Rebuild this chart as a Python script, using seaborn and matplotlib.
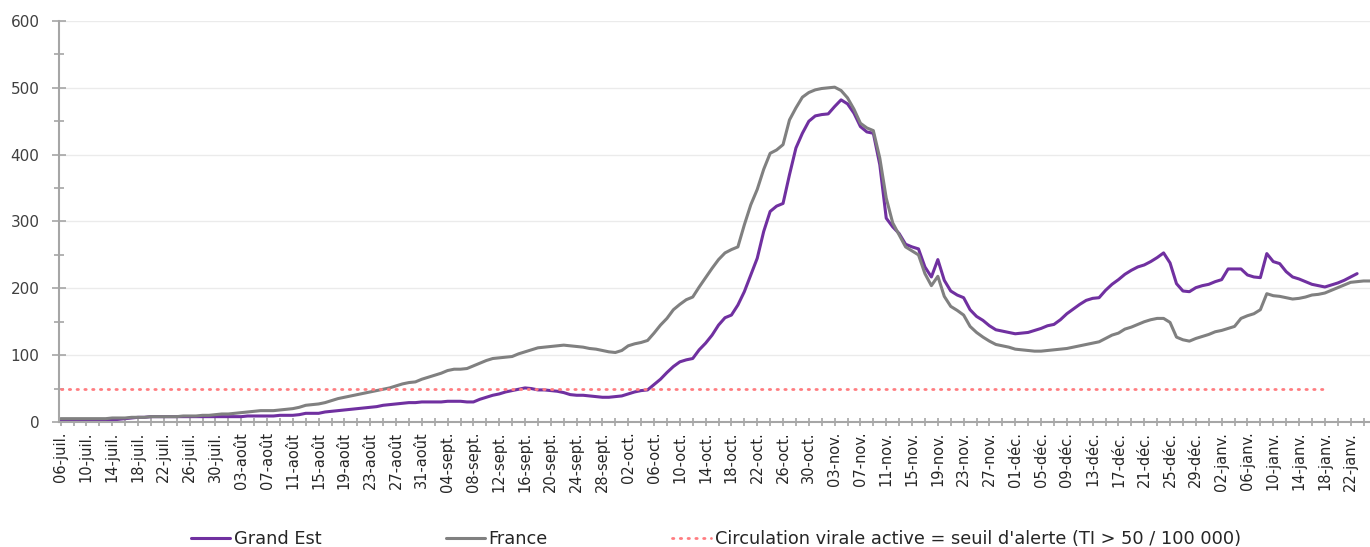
import numpy as np
import pandas as pd
import matplotlib
matplotlib.use("Agg")
import matplotlib.pyplot as plt
from matplotlib import font_manager
import seaborn as sns

# ---------------- data ----------------
start_date = "2020-07-06"

grand_est = (
    # juillet (06 -> 31)
    [2, 2, 2, 2, 2, 2, 2, 2, 3, 4, 5, 6, 7, 7, 8, 8, 8, 8, 8, 8, 8, 8, 8, 8, 8, 8]
    # août
    + [8, 8, 8, 9, 9, 9, 9, 9, 10, 10, 10, 11, 13, 13, 13, 15, 16, 17, 18, 19, 20, 21, 22, 23,
       25, 26, 27, 28, 29, 29, 30]
    # septembre
    + [30, 30, 30, 31, 31, 31, 30, 30, 34, 37, 40, 42, 45, 47, 49, 51, 50, 48, 48, 47,
       46, 44, 41, 40, 40, 39, 38, 37, 37, 38]
    # octobre
    + [39, 42, 45, 47, 48, 56, 64, 74, 83, 90, 93, 95, 108, 118, 130, 145, 156, 160, 175, 195,
       220, 245, 285, 315, 323, 327, 370, 410, 432, 450, 458]
    # novembre
    + [460, 461, 472, 482, 476, 462, 442, 434, 432, 385, 305, 292, 282, 266, 262, 259, 232, 217,
       243, 212, 196, 190, 186, 168, 158, 152, 144, 138, 136, 134]
    # décembre
    + [132, 133, 134, 137, 140, 144, 146, 153, 162, 169, 176, 182, 185, 186, 197, 206, 213, 221,
       227, 232, 235, 240, 246, 253, 238, 207, 196, 195, 201, 204, 206]
    # janvier (01 -> 23)
    + [210, 213, 229, 229, 229, 220, 217, 216, 252, 240, 237, 225, 217, 214, 210, 206, 204, 202,
       205, 208, 212, 217, 222]
)

france = (
    # juillet (06 -> 31)
    [5, 5, 5, 5, 5, 5, 5, 5, 6, 6, 6, 7, 7, 7, 8, 8, 8, 8, 8, 9, 9, 9, 10, 10, 11, 12]
    # août
    + [12, 13, 14, 15, 16, 17, 17, 17, 18, 19, 20, 22, 25, 26, 27, 29, 32, 35, 37, 39,
       41, 43, 45, 47, 49, 51, 54, 57, 59, 60, 64]
    # septembre
    + [67, 70, 73, 77, 79, 79, 80, 84, 88, 92, 95, 96, 97, 98, 102, 105, 108, 111, 112, 113,
       114, 115, 114, 113, 112, 110, 109, 107, 105, 104]
    # octobre
    + [107, 114, 117, 119, 122, 133, 145, 155, 168, 176, 183, 187, 202, 216, 230, 243, 253, 258,
       262, 295, 325, 348, 378, 402, 407, 415, 452, 470, 486, 493, 497]
    # novembre
    + [499, 500, 501, 496, 485, 468, 447, 440, 436, 395, 335, 298, 280, 262, 256, 250, 222, 204,
       218, 188, 173, 167, 160, 143, 134, 127, 121, 116, 114, 112]
    # décembre
    + [109, 108, 107, 106, 106, 107, 108, 109, 110, 112, 114, 116, 118, 120, 125, 130, 133, 139,
       142, 146, 150, 153, 155, 155, 149, 127, 123, 121, 125, 128, 131]
    # janvier (01 -> 25)
    + [135, 137, 140, 143, 155, 159, 162, 168, 192, 189, 188, 186, 184, 185, 187, 190, 191, 193,
       197, 201, 205, 209, 210, 211, 211]
)

seuil_value = 50
seuil_end = "2021-01-18"

month_abbr = {1: "janv.", 7: "juil.", 8: "août", 9: "sept.", 10: "oct.", 11: "nov.", 12: "déc."}
tick_end = "2021-01-22"

label_ge = "Grand Est"
label_fr = "France"
label_seuil = "Circulation virale active = seuil d'alerte (TI > 50 / 100 000)"

y_ticks = [0, 100, 200, 300, 400, 500, 600]

# ---------------- frames ----------------
df_ge = pd.DataFrame({"date": pd.date_range(start_date, periods=len(grand_est), freq="D"),
                      "value": grand_est})
df_fr = pd.DataFrame({"date": pd.date_range(start_date, periods=len(france), freq="D"),
                      "value": france})
seuil_dates = pd.date_range(start_date, seuil_end, freq="D")
df_seuil = pd.DataFrame({"date": seuil_dates, "value": [seuil_value] * len(seuil_dates)})

# ---------------- style ----------------
sns.set_theme(style="white")
plt.rcParams["font.family"] = ["DejaVu Sans"]

names = {f.name for f in font_manager.fontManager.ttflist}
narrow = "Liberation Sans Narrow" if "Liberation Sans Narrow" in names else "DejaVu Sans"

W, H = 1370, 547
fig = plt.figure(figsize=(W / 100, H / 100), dpi=100)
ax = fig.add_axes([59 / W, 125 / H, (W - 59) / W, 401 / H])

sns.lineplot(data=df_ge, x="date", y="value", ax=ax, color="#7030A0", lw=2.2, label=label_ge)
sns.lineplot(data=df_fr, x="date", y="value", ax=ax, color="#808080", lw=2.2, label=label_fr)
sns.lineplot(data=df_seuil, x="date", y="value", ax=ax, color="#FF7C80", lw=2.0,
             linestyle=(0, (0.5, 2.3)), dash_capstyle="round", label=label_seuil)

# axes limits
t0 = pd.Timestamp(start_date)
ax.set_xlim(t0 - pd.Timedelta(hours=6), t0 + pd.Timedelta(days=len(france) - 1))
ax.set_ylim(0, 600)

# y axis
ax.set_yticks(y_ticks)
ax.set_yticklabels([str(v) for v in y_ticks], fontsize=11, color="#404040")
ax.set_yticks([v + 50 for v in y_ticks[:-1]], minor=True)
ax.yaxis.grid(True, which="major", color="#EBEBEB", lw=1.0)
ax.xaxis.grid(False)
ax.tick_params(axis="y", which="major", direction="inout", length=10, width=1.2,
               color="#A6A6A6", pad=9, left=True)
ax.tick_params(axis="y", which="minor", direction="inout", length=7, width=1.2,
               color="#A6A6A6", left=True)

# x axis
tick_dates = pd.date_range(start_date, tick_end, freq="4D")
minor_dates = pd.date_range(start_date, t0 + pd.Timedelta(days=len(france) - 1), freq="2D")
ax.set_xticks(tick_dates)
ax.set_xticklabels([f"{d.day:02d}-{month_abbr[d.month]}" for d in tick_dates],
                   rotation=90, fontsize=10.5, family=narrow, color="#262626")
ax.set_xticks(minor_dates, minor=True)
ax.tick_params(axis="x", which="both", direction="inout", length=6, width=1.2,
               color="#A6A6A6", pad=4, bottom=True)

ax.set_xlabel("")
ax.set_ylabel("")
for s in ["top", "right"]:
    ax.spines[s].set_visible(False)
for s in ["left", "bottom"]:
    ax.spines[s].set_color("#A6A6A6")
    ax.spines[s].set_linewidth(1.5)

handles, labels = ax.get_legend_handles_labels()
ax.get_legend().remove()
fig.legend(handles, labels, loc="center", bbox_to_anchor=(716 / W, 8 / H), ncol=3,
           frameon=False, fontsize=12.8, handlelength=2.2, handletextpad=0.2,
           columnspacing=7.0, labelcolor="#262626")

fig.savefig("out.png", dpi=100)
